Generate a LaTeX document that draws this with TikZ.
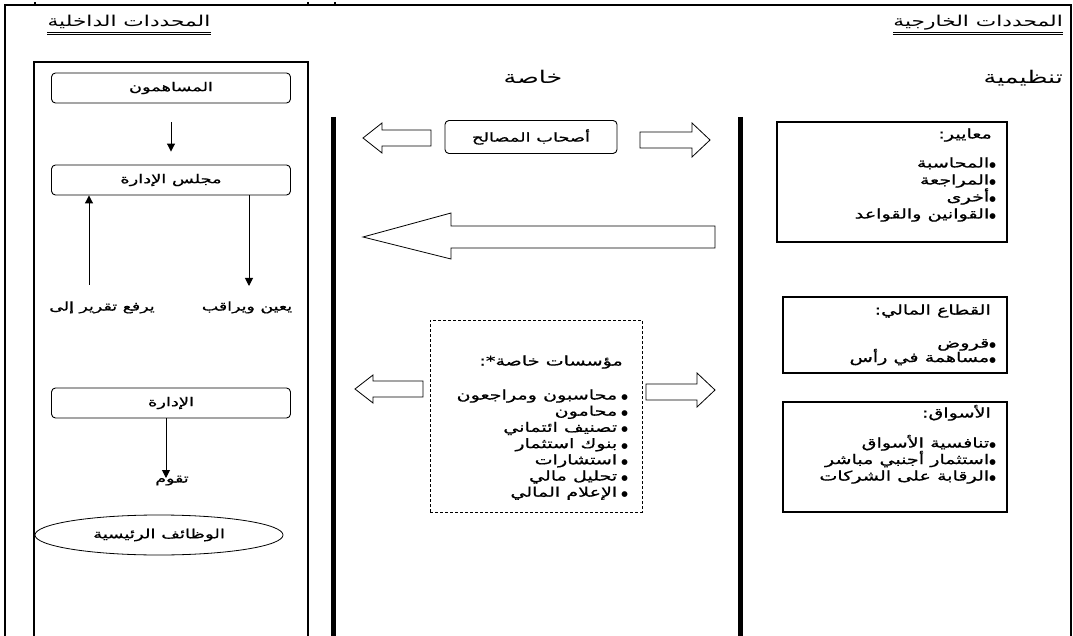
\documentclass[tikz,border=0pt]{standalone}
\usepackage{fontspec}
\newfontfamily\arabicfont[Script=Arabic, FakeStretch=1.45]{DejaVu Sans}
\newfontfamily\arabicbf[Script=Arabic, FakeStretch=1.45, FakeBold=0.8]{DejaVu Sans}
\newfontfamily\symfont{DejaVu Sans}
\TeXXeTstate=1
\usetikzlibrary{shapes.geometric,arrows.meta}
\newcommand\artxt[1]{{\arabicfont\beginR #1\endR}}
\newcommand\arbtxt[1]{{\arabicbf\beginR #1\endR}}
\newcommand\bul{{\symfont\fontsize{7.5}{8}\selectfont ●}}
\begin{document}
\begin{tikzpicture}[x=1pt,y=-1pt,
 frame/.style={line width=2pt},
 head/.style={inner sep=0pt, text height=10pt, text depth=3pt, font=\fontsize{15}{17}\selectfont},
 sect/.style={inner sep=0pt, text height=11pt, text depth=4pt, font=\fontsize{17.5}{20}\selectfont},
 uline/.style={line width=0.7pt},
 rbox/.style={draw, rounded corners=4pt, line width=0.9pt, minimum width=239pt, minimum height=30pt, inner sep=0pt, font=\fontsize{12.3}{14}\selectfont},
 lbl/.style={inner sep=0pt, text height=8pt, text depth=3pt, font=\fontsize{12}{14}\selectfont},
 arr/.style={line width=1pt, -{Triangle[length=8pt,width=8pt]}},
 hollow/.style={draw, line width=0.8pt, fill=white, line join=miter},
 sbox/.style={draw, line width=1.2pt, inner sep=0pt},
 dbox/.style={draw, line width=1pt, dash pattern=on 3pt off 2pt, inner sep=0pt},
 item/.style={inner sep=0pt, text height=8pt, text depth=3pt, font=\fontsize{13.2}{15}\selectfont}
]
\useasboundingbox (0,0) rectangle (1073,636);
% outer frame
\draw[frame] (5,636) -- (5,5) -- (1071,5) -- (1071,636);
\draw[line width=1.5pt] (35,2) -- (35,5) (308,2) -- (308,5) (335,2) -- (335,5);
% inner box and bars
\draw[frame] (34,636) -- (34,62) -- (308,62) -- (308,636);
\draw[line width=5pt] (333,117) -- (333,636);
\draw[line width=5pt] (740,117) -- (740,636);
% headings
\node[head] (hin) at (129,23) {\artxt{المحددات الداخلية}};
\draw[uline] ([yshift=-3pt]hin.south west) -- ([yshift=-3pt]hin.south east);
\draw[uline] ([yshift=-5pt]hin.south west) -- ([yshift=-5pt]hin.south east);
\node[head, anchor=east] (hex) at (1063,23) {\artxt{المحددات الخارجية}};
\draw[uline] ([yshift=-3pt]hex.south west) -- ([yshift=-3pt]hex.south east);
\draw[uline] ([yshift=-5pt]hex.south west) -- ([yshift=-5pt]hex.south east);
\node[sect, anchor=east] (tz) at (1063,80) {\artxt{تنظيمية}};
\node[sect] (kh) at (533,80) {\artxt{خاصة}};
% left column
\node[rbox] (sh) at (171,88) {\arbtxt{المساهمون}};
\node[rbox] (bd) at (171,180) {\arbtxt{مجلس الإدارة}};
\node[rbox] (mg) at (171,403) {\arbtxt{الإدارة}};
\draw[arr] ([yshift=-19pt]sh.south) -- ([yshift=13pt]bd.north);
\node[lbl] (rep) at (102,308) {\arbtxt{يرفع تقرير إلى}};
\node[lbl] (app) at (247,308) {\arbtxt{يعين ويراقب}};
\coordinate (upS) at (89,285);
\coordinate (dnE) at (249,286);
\draw[arr] (upS) -- (upS |- bd.south);
\draw[arr] (dnE |- bd.south) -- (dnE);
\node[lbl] (tq) at (172,480) {\arbtxt{تقوم}};
\coordinate (tqA) at (166,478);
\draw[arr] (tqA |- mg.south) -- (tqA);
\node[draw, ellipse, line width=0.8pt, minimum width=248pt, minimum height=40pt, inner sep=0pt, font=\fontsize{12.5}{14}\selectfont] (kf) at (159,535) {\arbtxt{الوظائف الرئيسية}};
% centre
\node[rbox, minimum width=172pt, minimum height=33pt] (st) at (531,137) {\arbtxt{أصحاب المصالح}};
\draw[hollow] (363,138) -- (382,123) -- (382,130) -- (431,130) -- (431,146) -- (382,146) -- (382,153) -- cycle;
\draw[hollow] (640,132) -- (692,132) -- (692,123) -- (710,140) -- (692,157) -- (692,148) -- (640,148) -- cycle;
\draw[hollow] (363,237) -- (451,213) -- (451,226) -- (715,226) -- (715,248) -- (451,248) -- (451,259) -- cycle;
\node[dbox, minimum width=212pt, minimum height=192pt] (ps) at (536,416) {};
\node[item, anchor=east] (pst) at (623,363) {\arbtxt{مؤسسات خاصة*:}};
\foreach \t [count=\i] in {محاسبون ومراجعون, محامون, تصنيف ائتماني, بنوك استثمار, استشارات, تحليل مالي, الإعلام المالي}
  \node[item, anchor=east] (psi\i) at (628,{397+16.2*(\i-1)}) {\arbtxt{\bul\hspace{4pt}\t}};
\draw[hollow] (355,389) -- (373,375) -- (373,381) -- (423,381) -- (423,397) -- (373,397) -- (373,403) -- cycle;
\draw[hollow] (646,384) -- (697,384) -- (697,373) -- (715,390) -- (697,407) -- (697,400) -- (646,400) -- cycle;
% right boxes
\node[sbox, minimum width=230pt, minimum height=120pt] (b1) at (892,182) {};
\node[item, anchor=east] (b1t) at (992,136) {\arbtxt{معايير:}};
\foreach \t [count=\i] in {المحاسبة, المراجعة, أخرى, القوانين والقواعد}
  \node[item, anchor=east] (b1i\i) at (996,{165+17*(\i-1)}) {\arbtxt{\bul\t}};
\node[sbox, minimum width=224pt, minimum height=76pt] (b2) at (895,335) {};
\node[item, anchor=east] (b2t) at (991,312) {\arbtxt{القطاع المالي:}};
\foreach \t [count=\i] in {قروض, مساهمة في رأس}
  \node[item, anchor=east] (b2i\i) at (996,{345+14.5*(\i-1)}) {\arbtxt{\bul\t}};
\node[sbox, minimum width=224pt, minimum height=110pt] (b3) at (895,457) {};
\node[item, anchor=east] (b3t) at (991,415) {\arbtxt{الأسواق:}};
\foreach \t [count=\i] in {تنافسية الأسواق, استثمار أجنبي مباشر, الرقابة على الشركات}
  \node[item, anchor=east] (b3i\i) at (996,{445+16.5*(\i-1)}) {\arbtxt{\bul\t}};
\end{tikzpicture}
\end{document}
